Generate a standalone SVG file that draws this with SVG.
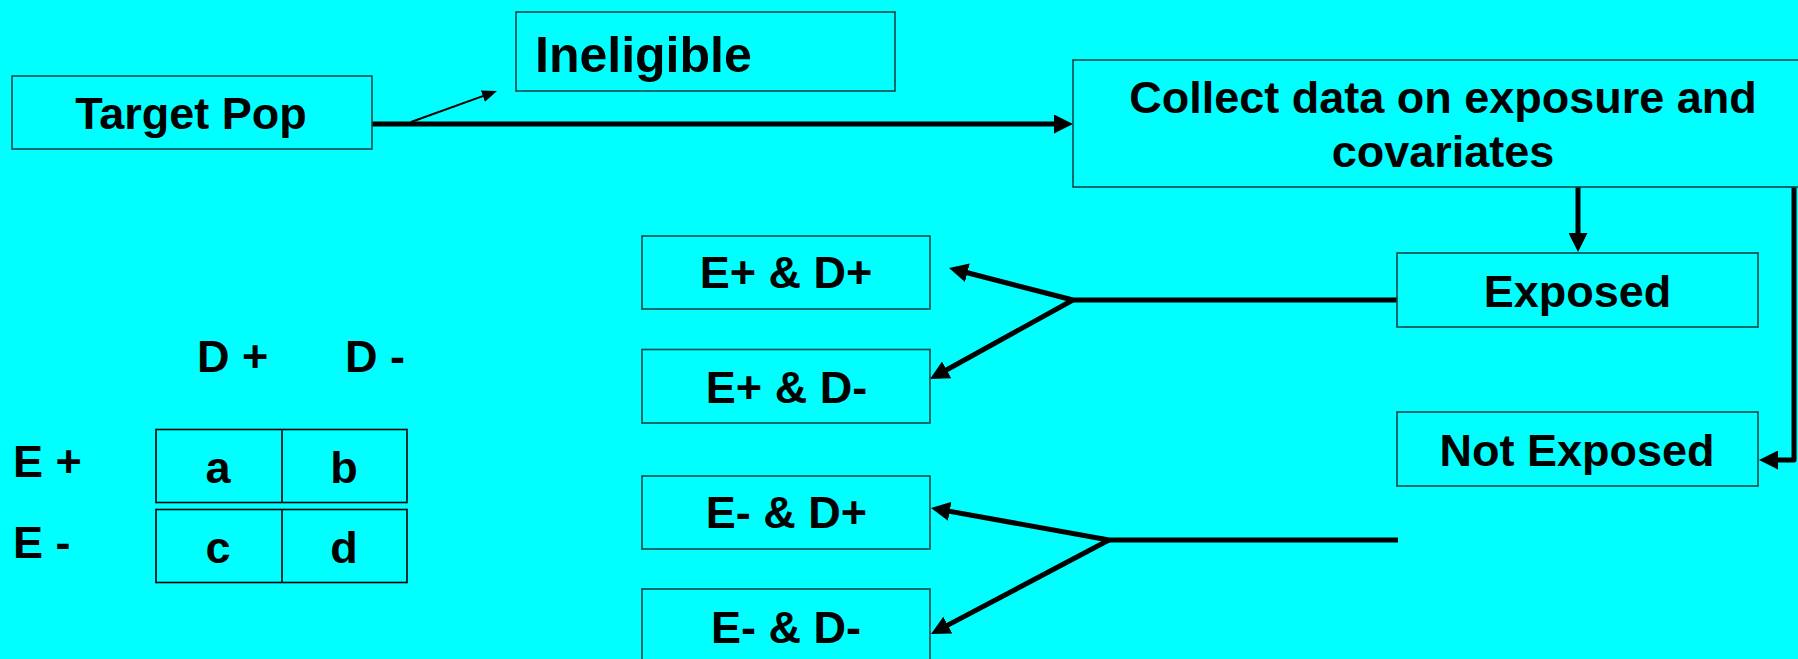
<svg xmlns="http://www.w3.org/2000/svg" width="1798" height="659" viewBox="0 0 1798 659">
  <style>
    .box { fill: #00FFFF; stroke: #0b4848; stroke-width: 1.6; }
    .cell { fill: #00FFFF; stroke: #000000; stroke-width: 1.6; }
    .lbl { font-family: "Liberation Sans", Arial, sans-serif; font-weight: bold; font-size: 45px; fill: #000000; }
    .mid { text-anchor: middle; }
    .wire { fill: none; stroke: #000000; stroke-width: 5; stroke-linejoin: round; }
    .thin { fill: none; stroke: #000000; stroke-width: 2; }
  </style>
  <defs>
    <marker id="head" viewBox="0 0 19 19" refX="7" refY="9.5" markerWidth="19" markerHeight="19" markerUnits="userSpaceOnUse" orient="auto">
      <path d="M0,0 L19,9.5 L0,19 z" fill="#000000"/>
    </marker>
    <marker id="headSmall" viewBox="0 0 15 12" refX="5" refY="6" markerWidth="15" markerHeight="12" markerUnits="userSpaceOnUse" orient="auto">
      <path d="M0,0 L15,6 L0,12 z" fill="#000000"/>
    </marker>
  </defs>

  <rect x="0" y="0" width="1798" height="659" fill="#00FFFF"/>

  <!-- connectors -->
  <g id="connectors">
    <path class="wire" d="M372,124 H1061" marker-end="url(#head)"/>
    <path class="thin" d="M411,122 L487.6,94.4" marker-end="url(#headSmall)"/>
    <path class="wire" d="M1578,187 V240" marker-end="url(#head)"/>
    <path class="wire" d="M1794,187 V460 H1771" marker-end="url(#head)"/>
    <path class="wire" d="M1397,300 H1073 L960.6,271" marker-end="url(#head)"/>
    <path class="wire" d="M1073,300 L940.5,373.2" marker-end="url(#head)"/>
    <path class="wire" d="M1398,540 H1109 L942.8,510.1" marker-end="url(#head)"/>
    <path class="wire" d="M1109,540 L941.6,628.4" marker-end="url(#head)"/>
  </g>

  <!-- flow nodes -->
  <g id="target-pop">
    <rect class="box" x="12" y="76" width="360" height="73"/>
    <text class="lbl mid" x="191" y="129">Target Pop</text>
  </g>
  <g id="ineligible">
    <rect class="box" x="516" y="12" width="379" height="79"/>
    <text class="lbl" x="535" y="72" style="font-size:50px">Ineligible</text>
  </g>
  <g id="collect-data">
    <rect class="box" x="1073" y="60" width="760" height="127"/>
    <text class="lbl mid" x="1443" y="113">Collect data on exposure and</text>
    <text class="lbl mid" x="1443" y="167">covariates</text>
  </g>
  <g id="exposed">
    <rect class="box" x="1397" y="253" width="361" height="74"/>
    <text class="lbl mid" x="1577.5" y="307">Exposed</text>
  </g>
  <g id="not-exposed">
    <rect class="box" x="1397" y="412" width="361" height="74"/>
    <text class="lbl mid" x="1577" y="466">Not Exposed</text>
  </g>
  <g id="e-pos-d-pos">
    <rect class="box" x="642" y="236" width="288" height="73"/>
    <text class="lbl mid" x="786" y="288">E+ &amp; D+</text>
  </g>
  <g id="e-pos-d-neg">
    <rect class="box" x="642" y="349.5" width="288" height="73.5"/>
    <text class="lbl mid" x="786.5" y="403">E+ &amp; D-</text>
  </g>
  <g id="e-neg-d-pos">
    <rect class="box" x="642" y="476" width="288" height="73"/>
    <text class="lbl mid" x="786.5" y="528">E- &amp; D+</text>
  </g>
  <g id="e-neg-d-neg">
    <rect class="box" x="642" y="589" width="288" height="80"/>
    <text class="lbl mid" x="786" y="643">E- &amp; D-</text>
  </g>

  <!-- 2x2 table -->
  <g id="table">
    <text class="lbl" x="197" y="372">D +</text>
    <text class="lbl" x="345" y="372">D -</text>
    <text class="lbl" x="13" y="477">E +</text>
    <text class="lbl" x="13" y="558">E -</text>
    <rect class="cell" x="156" y="429.5" width="251" height="73"/>
    <line class="cell" x1="282" y1="429.5" x2="282" y2="502.5"/>
    <rect class="cell" x="156" y="509.5" width="251" height="73"/>
    <line class="cell" x1="282" y1="509.5" x2="282" y2="582.5"/>
    <text class="lbl mid" x="218" y="483">a</text>
    <text class="lbl mid" x="344" y="483">b</text>
    <text class="lbl mid" x="218" y="563">c</text>
    <text class="lbl mid" x="344" y="563">d</text>
  </g>
</svg>
